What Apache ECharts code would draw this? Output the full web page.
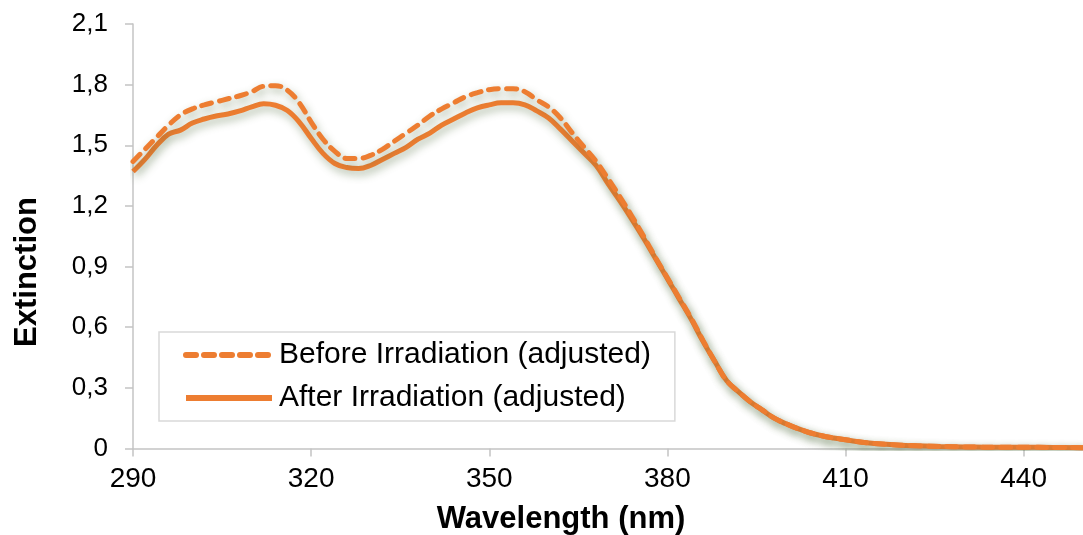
<!DOCTYPE html>
<html>
<head>
<meta charset="utf-8">
<script src="https://cdn.jsdelivr.net/npm/echarts@6/dist/echarts.min.js"></script>
<style>
html,body{margin:0;padding:0;background:#fff;}
#chart{width:1083px;height:535px;}
</style>
</head>
<body>
<div id="chart"></div>
<script>
// Wavelengths (nm)
const wavelengths = [290,292,294,296,298,300,302,304,306,308,310,312,314,316,318,320,322,324,326,328,330,332,334,336,338,340,342,344,346,348,350,352,354,356,358,360,362,364,366,368,370,372,374,376,378,380,382,384,386,388,390,392,394,396,398,400,402,404,406,408,410,414,418,422,426,430,435,440,445,450];
// Before irradiation (adjusted) - dashed
const beforeIrradiation = [1.42,1.48,1.54,1.60,1.65,1.68,1.70,1.715,1.73,1.745,1.765,1.792,1.795,1.772,1.71,1.615,1.53,1.47,1.435,1.435,1.45,1.48,1.52,1.56,1.60,1.645,1.68,1.71,1.74,1.76,1.775,1.78,1.78,1.765,1.725,1.69,1.635,1.56,1.49,1.42,1.335,1.245,1.15,1.05,0.945,0.845,0.745,0.645,0.535,0.43,0.335,0.28,0.23,0.19,0.15,0.122,0.098,0.078,0.063,0.052,0.043,0.027,0.019,0.013,0.01,0.008,0.006,0.006,0.005,0.004];
// After irradiation (adjusted) - solid
const afterIrradiation = [1.37,1.43,1.50,1.555,1.575,1.61,1.63,1.645,1.655,1.67,1.69,1.705,1.698,1.672,1.615,1.535,1.46,1.41,1.39,1.385,1.40,1.43,1.46,1.49,1.53,1.56,1.60,1.63,1.66,1.685,1.70,1.71,1.71,1.70,1.67,1.635,1.58,1.52,1.46,1.40,1.31,1.225,1.135,1.04,0.94,0.84,0.74,0.64,0.53,0.43,0.335,0.28,0.23,0.19,0.15,0.122,0.098,0.078,0.063,0.052,0.043,0.027,0.019,0.013,0.01,0.008,0.006,0.006,0.005,0.004];
const xTicks = [290,320,350,380,410,440];
const seriesNames = ['Before Irradiation (adjusted)','After Irradiation (adjusted)'];
const xTitle = 'Wavelength (nm)';
const yTitle = 'Extinction';

const FONT = '"Liberation Sans", Arial, sans-serif';
const ORANGE = '#ED7D31';
const pair = (ys) => wavelengths.map((w, i) => [w, ys[i]]);
const shadow = {shadowColor:'rgba(70,100,50,0.45)', shadowBlur:8, shadowOffsetX:2, shadowOffsetY:4};

const chart = echarts.init(document.getElementById('chart'));
chart.setOption({
  backgroundColor:'#fff',
  animation:false,
  grid:{left:133, right:-7, top:24, bottom:86.5},
  xAxis:{
    type:'value', min:290, max:450, interval:30,
    axisLine:{show:true, lineStyle:{color:'#c4c4c4', width:1.5}},
    axisTick:{show:true, length:8, lineStyle:{color:'#c4c4c4', width:1.5}, customValues:xTicks},
    axisLabel:{fontSize:28, color:'#000', fontFamily:FONT, margin:17, customValues:xTicks},
    splitLine:{show:false}
  },
  yAxis:{
    type:'value', min:0, max:2.1, interval:0.3,
    axisLine:{show:true, lineStyle:{color:'#c4c4c4', width:1.5}},
    axisTick:{show:true, length:8, lineStyle:{color:'#c4c4c4', width:1.5}},
    axisLabel:{fontSize:26, color:'#000', fontFamily:FONT, margin:25,
      formatter:(v)=> v===0 ? '0' : v.toFixed(1).replace('.', ',')},
    splitLine:{show:false}
  },
  legend:{
    orient:'vertical', left:159, top:332,
    padding:[8,24,8,24], itemGap:13, itemWidth:86, itemHeight:14,
    backgroundColor:'#fff', borderColor:'#d9d9d9', borderWidth:1.5,
    textStyle:{fontSize:30, color:'#000', fontFamily:FONT, padding:[0,0,0,2]},
    itemStyle:{opacity:0, borderWidth:0},
    lineStyle:{shadowBlur:0, shadowColor:'rgba(0,0,0,0)', shadowOffsetX:0, shadowOffsetY:0, width:6},
    data:seriesNames
  },
  graphic:[
    {type:'text', x:27, y:272, rotation:Math.PI/2,
     style:{text:yTitle, fontSize:31, fontWeight:'bold', fontFamily:FONT, fill:'#000', align:'center', verticalAlign:'middle'}},
    {type:'text', x:561, y:519,
     style:{text:xTitle, fontSize:31, fontWeight:'bold', fontFamily:FONT, fill:'#000', align:'center', verticalAlign:'middle'}}
  ],
  series:[
    {name:seriesNames[0], type:'line', data:pair(beforeIrradiation), smooth:0.4, symbol:'none', showSymbol:false,
     lineStyle:Object.assign({color:ORANGE, width:5, type:[10,8], cap:'round'}, shadow), itemStyle:{color:ORANGE}, z:3},
    {name:seriesNames[1], type:'line', data:pair(afterIrradiation), smooth:0.4, symbol:'none', showSymbol:false,
     lineStyle:Object.assign({color:ORANGE, width:5, type:'solid'}, shadow), itemStyle:{color:ORANGE}, z:2}
  ]
});
</script>
</body>
</html>
